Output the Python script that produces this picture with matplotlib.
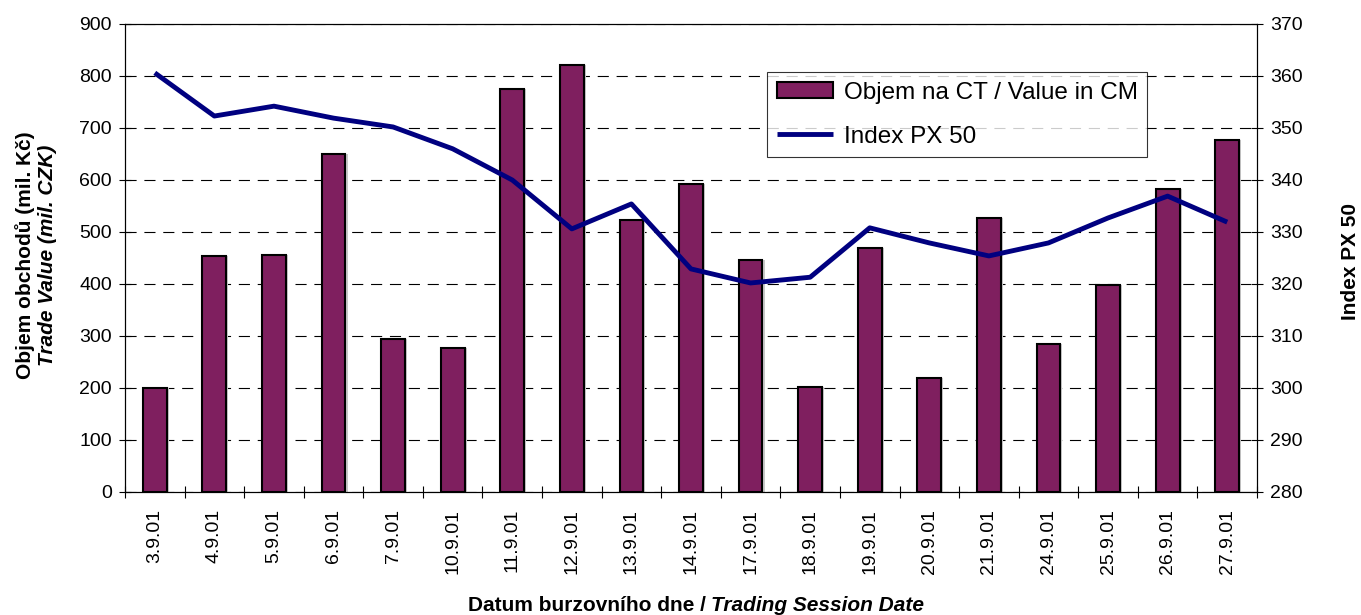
import numpy as np
from matplotlib import pyplot as plt

plt.rcParams['font.family'] = ['Liberation Sans', 'DejaVu Sans']

dates = ['3.9.01', '4.9.01', '5.9.01', '6.9.01', '7.9.01', '10.9.01', '11.9.01',
         '12.9.01', '13.9.01', '14.9.01', '17.9.01', '18.9.01', '19.9.01',
         '20.9.01', '21.9.01', '24.9.01', '25.9.01', '26.9.01', '27.9.01']
trade_value = [200, 453, 456, 650, 294, 276, 775, 822, 523, 592,
               446, 201, 470, 219, 527, 285, 398, 583, 676]
px50 = [360.6, 352.3, 354.2, 351.9, 350.2, 346.0, 340.0, 330.6, 335.4, 322.9,
        320.2, 321.3, 330.8, 327.9, 325.4, 327.9, 332.7, 336.9, 331.9]

W, H = 1361, 615
fig = plt.figure(figsize=(W / 100, H / 100), dpi=100)
ax = fig.add_axes([125 / W, 1 - 492 / H, (1257 - 125) / W, (492 - 24) / H])
ax2 = ax.twinx()

x = np.arange(len(dates))

# Bars with a light grey drop shadow
ax.bar(x + 0.035, trade_value, width=0.40, color='#c8c8c8', zorder=2)
bars = ax.bar(x, trade_value, width=0.40, color='#7f1f5f', edgecolor='black',
              linewidth=1.5, zorder=3, label='Objem na CT / Value in CM')

line, = ax2.plot(x, px50, color='#000080', linewidth=3.5, solid_capstyle='butt',
                 label='Index PX 50')

ax.set_xlim(-0.5, len(dates) - 0.5)
ax.set_ylim(0, 900)
ax.set_yticks(np.arange(0, 901, 100))
ax2.set_ylim(280, 370)
ax2.set_yticks(np.arange(280, 371, 10))

ax.yaxis.grid(True, linestyle=(0, (10, 7)), color='black', linewidth=0.8)
ax.set_axisbelow(True)

ax.set_xticks(x)
ax.set_xticklabels(dates, rotation=90)
ax.set_xticks(np.arange(-0.5, len(dates)), minor=True)
ax.tick_params(axis='x', which='major', length=0, pad=12, labelsize=14)
ax.tick_params(axis='x', which='minor', length=9, direction='inout', width=0.8)
ax.tick_params(axis='y', length=9, direction='inout', labelsize=14, width=0.8, pad=5)
ax2.tick_params(axis='y', length=9, direction='inout', labelsize=14, width=0.8, pad=5)

for a in (ax, ax2):
    for s in a.spines.values():
        s.set_linewidth(0.8)

# Axis labels
fig.text(25 / W, 1 - 255 / H, 'Objem obchodů (mil. Kč)', rotation=90, fontsize=15,
         fontweight='bold', ha='center', va='center')
fig.text(48 / W, 1 - 255 / H, 'Trade Value (mil. CZK)', rotation=90, fontsize=15,
         fontweight='bold', style='italic', ha='center', va='center')
fig.text(1350 / W, 1 - 262 / H, 'Index PX 50', rotation=90, fontsize=15,
         fontweight='bold', ha='center', va='center')

t1 = fig.text(0.0, 0.006, 'Datum burzovního dne / ', fontsize=15,
              fontweight='bold', ha='left', va='baseline')
t2 = fig.text(0.0, 0.006, 'Trading Session Date', fontsize=15,
              fontweight='bold', style='italic', ha='left', va='baseline')
r = fig.canvas.get_renderer()
w1 = t1.get_window_extent(r).width / W
w2 = t2.get_window_extent(r).width / W
x0 = 696 / W - (w1 + w2) / 2
t1.set_x(x0)
t2.set_x(x0 + w1)

leg = fig.legend(handles=[bars, line], loc='upper left',
                 bbox_to_anchor=(767 / W, 1 - 72 / H), fontsize=17.5,
                 frameon=True, fancybox=False, edgecolor='black',
                 borderpad=0.4, labelspacing=0.9, handlelength=2.3,
                 handletextpad=0.45, borderaxespad=0, handleheight=0.6)
leg.get_frame().set_linewidth(0.8)

fig.savefig('out.png', dpi=100)
